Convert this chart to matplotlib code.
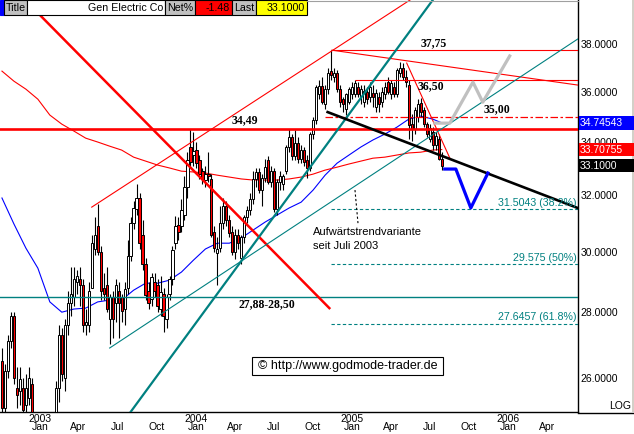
import numpy as np
import pandas as pd
import matplotlib
matplotlib.use('Agg')
import matplotlib.pyplot as plt
import matplotlib.dates as mdates
from matplotlib.patches import Rectangle
from matplotlib.ticker import FuncFormatter, NullLocator

plt.rcParams['font.family'] = ['Liberation Sans', 'DejaVu Sans']

# weekly bars, first bar = week of 2002-10-04
first_week = '2002-10-04'
opens = [26.5, 25.1, 26.2, 27.1, 27.9, 25.7, 25.6, 25.7, 25.2, 25.4,
         25.8, 24.9, 24.3, 24.0, 23.6, 23.0, 23.7, 24.2, 24.9, 25.7,
         27.3, 26.0, 27.6, 28.3, 28.5, 29.0, 29.1, 28.9, 27.6, 27.6,
         28.8, 30.1, 30.9, 30.0, 28.8, 28.9, 27.8, 28.5, 28.3, 28.7,
         28.5, 28.1, 28.8, 29.85, 31.0, 31.5, 31.9, 30.6, 29.6, 28.7,
         28.45, 29.0, 28.9, 28.1, 28.6, 27.8, 28.6, 29.1, 30.3, 30.95,
         30.9, 31.3, 32.3, 33.8, 33.5, 33.7, 33.3, 32.9, 32.55, 32.8,
         32.6, 30.7, 29.95, 30.15, 31.0, 31.6, 31.1, 30.7, 30.0, 30.6,
         29.8, 30.5, 31.2, 31.45, 31.85, 32.6, 32.85, 32.2, 32.65, 33.3,
         32.5, 32.9, 31.5, 32.5, 32.4, 32.9, 33.8, 34.2, 33.45, 33.95,
         33.35, 33.7, 33.3, 33.0, 34.3, 34.85, 35.9, 36.25, 35.5, 36.1,
         36.85, 36.6, 36.8, 36.1, 35.7, 35.3, 35.6, 35.9, 35.9, 36.2,
         35.85, 35.6, 36.0, 35.8, 35.95, 35.4, 35.8, 35.6, 35.9, 36.4,
         35.9, 36.2, 35.9, 36.8, 37.0, 36.6, 36.3, 34.7, 34.5, 35.0,
         35.55, 35.25, 34.7, 34.1, 34.4, 33.9, 34.1, 33.35]
highs = [26.9, 26.4, 27.3, 28.0, 28.0, 26.3, 26.3, 26.0, 26.1, 26.3,
         26.0, 25.0, 24.8, 24.6, 24.2, 24.0, 24.5, 24.9, 25.9, 27.6,
         27.5, 27.8, 28.7, 29.5, 29.5, 29.4, 29.5, 29.1, 28.1, 29.0,
         30.6, 31.2, 31.7, 30.2, 29.3, 29.5, 28.6, 28.7, 29.1, 29.0,
         28.6, 29.0, 30.4, 31.2, 31.8, 32.4, 32.1, 31.1, 29.8, 29.0,
         29.3, 29.3, 29.1, 29.2, 28.8, 28.6, 29.2, 30.2, 31.25, 31.2,
         31.85, 32.7, 33.6, 34.49, 34.4, 34.0, 33.5, 33.0, 33.1, 33.6,
         32.8, 30.9, 30.5, 31.6, 31.9, 31.8, 31.3, 30.9, 30.8, 30.8,
         30.6, 31.3, 31.6, 32.1, 32.9, 33.0, 33.0, 32.8, 33.35, 33.45,
         33.1, 33.0, 32.6, 32.9, 32.8, 33.9, 34.5, 34.3, 34.45, 34.2,
         33.9, 33.8, 33.5, 34.4, 35.0, 36.3, 36.5, 36.6, 36.3, 37.0,
         37.75, 37.0, 36.9, 36.3, 35.8, 35.95, 36.2, 36.4, 36.5, 36.4,
         36.3, 36.3, 36.2, 36.4, 36.3, 36.1, 36.0, 36.2, 36.4, 36.6,
         36.5, 36.4, 37.0, 37.25, 37.2, 36.9, 36.5, 35.1, 35.4, 35.7,
         35.75, 35.4, 34.8, 34.7, 34.6, 34.4, 34.3, 33.6]
lows = [24.8, 24.9, 26.0, 26.9, 25.8, 25.1, 25.2, 24.7, 25.0, 25.2,
        24.6, 24.0, 23.5, 23.2, 22.8, 22.6, 23.2, 23.5, 24.7, 25.3,
        25.9, 25.6, 27.3, 27.9, 28.2, 28.6, 28.2, 27.4, 27.3, 27.4,
        28.8, 29.9, 29.9, 28.4, 28.4, 28.0, 27.0, 27.2, 27.7, 27.2,
        27.7, 27.6, 28.6, 29.7, 30.8, 31.3, 30.1, 29.4, 28.4, 28.1,
        28.2, 28.5, 28.0, 27.9, 27.4, 27.5, 28.4, 28.9, 30.1, 30.4,
        30.7, 31.1, 31.9, 33.1, 33.1, 33.0, 32.6, 32.4, 32.3, 32.5,
        30.5, 30.0, 28.9, 30.0, 30.8, 30.9, 30.5, 29.9, 29.75, 30.1,
        29.6, 30.3, 31.0, 31.3, 31.7, 32.3, 32.1, 31.6, 32.5, 32.4,
        32.3, 31.4, 31.3, 32.2, 32.2, 32.8, 33.6, 33.3, 33.3, 33.2,
        33.2, 33.1, 32.65, 32.9, 34.1, 34.7, 35.7, 35.5, 35.3, 35.9,
        36.5, 36.4, 36.0, 35.4, 35.2, 35.05, 35.5, 35.7, 35.8, 35.8,
        35.5, 35.4, 35.5, 35.6, 35.4, 35.2, 35.2, 35.4, 35.7, 35.9,
        35.7, 35.8, 35.8, 36.6, 36.5, 36.2, 34.1, 34.05, 34.3, 34.8,
        35.0, 34.6, 34.2, 34.0, 33.7, 33.7, 33.3, 32.95]
closes = [25.1, 26.2, 27.1, 27.9, 26.0, 25.5, 25.95, 25.05, 25.7, 26.0,
          25.0, 24.3, 24.0, 23.6, 23.0, 23.7, 24.2, 24.6, 25.7, 27.3,
          26.1, 27.6, 28.3, 28.6, 29.1, 29.2, 28.9, 27.6, 27.7, 28.7,
          30.3, 30.6, 30.0, 28.7, 28.6, 28.1, 28.5, 27.8, 28.9, 28.3,
          28.05, 28.75, 29.85, 31.0, 31.55, 31.9, 30.3, 29.6, 28.55, 28.3,
          29.15, 28.7, 28.2, 28.65, 27.9, 28.5, 29.1, 30.05, 30.9, 30.7,
          31.45, 32.3, 33.3, 33.25, 33.65, 33.2, 32.8, 32.6, 32.8, 32.7,
          30.6, 30.15, 30.1, 31.0, 31.6, 31.1, 30.65, 30.0, 30.6, 30.3,
          30.5, 31.2, 31.45, 31.85, 32.6, 32.85, 32.2, 32.65, 33.05, 32.5,
          32.9, 31.5, 32.5, 32.7, 32.7, 33.8, 34.2, 33.45, 33.95, 33.35,
          33.7, 33.25, 33.0, 34.3, 34.85, 36.2, 36.25, 35.6, 36.1, 36.8,
          36.7, 36.8, 36.1, 35.6, 35.5, 35.9, 36.1, 36.2, 36.35, 35.9,
          36.1, 36.05, 35.7, 36.2, 35.8, 35.95, 35.5, 36.0, 36.2, 36.0,
          36.35, 35.9, 36.9, 37.0, 36.6, 36.4, 34.65, 34.5, 35.25, 35.5,
          35.2, 34.7, 34.3, 34.55, 33.9, 34.25, 33.35, 33.1]

# moving averages, read every 4th bar (plus the last one)
ma_bars = list(range(0, 148, 4)) + [147]
ma_blue = [31.90, 30.97, 30.13, 29.45, 28.34, 28.01, 28.11, 28.14, 28.34, 28.40,
           28.40, 28.72, 28.95, 28.95, 29.05, 29.32, 29.72, 30.10, 30.30, 30.30,
           30.48, 30.76, 31.04, 31.29, 31.54, 31.75, 32.19, 32.74, 33.19, 33.50,
           33.81, 34.08, 34.31, 34.58, 34.90, 35.02, 34.90, 34.75]
ma_red = [36.86, 36.44, 36.11, 35.70, 35.06, 34.70, 34.43, 34.15, 34.00, 33.84,
          33.69, 33.42, 33.27, 33.12, 33.01, 32.89, 32.86, 32.82, 32.74, 32.67,
          32.60, 32.56, 32.56, 32.56, 32.60, 32.67, 32.78, 32.93, 33.04, 33.16,
          33.27, 33.38, 33.42, 33.50, 33.58, 33.61, 33.69, 33.71]

# drawn lines: anchor dates and prices
red_fall_d, red_fall_p = ['2002-11-25', '2004-11-08'], [40.01, 28.14]
red_chan_d, red_chan_p = ['2003-05-02', '2005-07-01'], [31.57, 40.56]
red_top_d, red_top_p = ['2004-11-14', '2006-06-12'], [37.75, 36.28]
red_apr_d, red_apr_p = ['2005-05-08', '2005-08-17'], [37.2, 33.38]
teal_steep_d, teal_steep_p = ['2003-07-18', '2005-07-17'], [24.77, 40.21]
teal_up_d, teal_up_p = ['2003-06-13', '2006-06-12'], [26.89, 38.23]
black_d, black_p = ['2004-11-04', '2006-06-12'], [35.18, 31.54]
gray_d = ['2005-07-13', '2005-08-17', '2005-10-10', '2005-11-02', '2006-01-04']
gray_p = [34.74, 34.74, 36.40, 35.58, 37.50]
blue_d = ['2005-08-05', '2005-08-31', '2005-10-05', '2005-11-14']
blue_p = [32.97, 32.97, 31.54, 32.82]
pointer_d, pointer_p = ['2005-01-07', '2005-01-14'], [32.19, 31.0]

level_3449 = 34.49
level_2850 = 28.50
level_3775, start_3775 = 37.75, '2004-11-14'
level_3650, start_3650 = 36.50, '2005-01-07'
level_3500, start_3500 = 35.00, '2004-10-28'
fib_levels = [31.5043, 29.575, 27.6457]
fib_labels = ['31.5043 (38.2%)', '29.575 (50%)', '27.6457 (61.8%)']
fib_start = '2004-11-12'

last_blue, last_red, last_price = 34.74543, 33.70755, 33.10

y_ticks = [26, 28, 30, 32, 34, 36, 38]


def dn(d):
    return mdates.date2num(np.array(d, dtype='datetime64[D]'))


W, H = 634, 434
fig = plt.figure(figsize=(W / 100, H / 100), dpi=100)
fig.patch.set_facecolor('white')
ax = fig.add_axes([0, 22 / H, 578 / W, 412 / H])
ax.set_yscale('log')

jan03 = dn('2003-01-01')
x_left, x_right = jan03 - 93.6, jan03 + 1258.8

# candles
dates = pd.date_range(first_week, periods=len(closes), freq='7D')
xs = mdates.date2num(dates.values)
o = np.array(opens)
c = np.array(closes)
ax.vlines(xs, lows, highs, color='black', lw=0.8, zorder=3)
body_lo = np.minimum(o, c)
body_h = np.maximum(np.abs(c - o), 0.04)
cols = np.where(c >= o, 'white', '#ff0000')
ax.bar(xs, body_h, bottom=body_lo, width=5.2, color=cols,
       edgecolor='black', linewidth=0.7, zorder=4)

# moving averages
ax.plot(xs[ma_bars], ma_blue, color='#0000ff', lw=0.8, zorder=2)
ax.plot(xs[ma_bars], ma_red, color='#ff0000', lw=0.8, zorder=2)

red = '#ff0000'
teal = '#008080'
ax.axhline(level_3449, color=red, lw=1.9, zorder=5)
ax.axhline(level_2850, color=teal, lw=1.0, zorder=5)
ax.plot(dn(red_fall_d), red_fall_p, color=red, lw=1.8, zorder=5)
ax.plot(dn(red_chan_d), red_chan_p, color=red, lw=0.8, zorder=5)
ax.plot(dn(red_top_d), red_top_p, color=red, lw=0.8, zorder=5)
ax.plot(dn(red_apr_d), red_apr_p, color=red, lw=0.8, zorder=5)
ax.hlines(level_3775, dn(start_3775), x_right + 5, color=red, lw=0.8, zorder=5)
ax.hlines(level_3650, dn(start_3650), x_right + 5, color=red, lw=0.8, zorder=5)
ax.hlines(level_3500, dn(start_3500), x_right + 5, color=red, lw=0.9,
          linestyles=[(0, (6, 2, 2, 2))], zorder=5)
ax.plot(dn(teal_steep_d), teal_steep_p, color=teal, lw=1.6, zorder=5)
ax.plot(dn(teal_up_d), teal_up_p, color=teal, lw=0.8, zorder=5)
ax.plot(dn(black_d), black_p, color='black', lw=1.9, zorder=6)
for lv, lb in zip(fib_levels, fib_labels):
    ax.hlines(lv, dn(fib_start), x_right + 5, color=teal, lw=0.8,
              linestyles=[(0, (3, 2.1))], zorder=5)
    ax.annotate(lb, xy=(1, lv), xycoords=('axes fraction', 'data'),
                xytext=(-1, 1), textcoords='offset points',
                ha='right', va='bottom', color=teal, fontsize=7.7, zorder=7)
ax.plot(dn(gray_d), gray_p, color='#c0c0c0', lw=2.3, zorder=6)
ax.plot(dn(blue_d), blue_p, color='#0000ff', lw=2.3, zorder=6)
ax.plot(dn(pointer_d), pointer_p, color='black', lw=0.8,
        linestyle=(0, (2, 2)), zorder=6)

ax.set_xlim(x_left, x_right)
ax.set_ylim(25.0, 39.97)

ax.yaxis.tick_right()
ax.set_yticks(y_ticks)
ax.yaxis.set_major_formatter(FuncFormatter(lambda v, p: f'{v:.4f}'))
ax.yaxis.set_minor_locator(NullLocator())
ax.tick_params(axis='y', length=0, pad=2, labelsize=7.5)

qt = pd.date_range('2003-01-01', '2006-04-01', freq='QS')
xlabels = [f'{d.year}\nJan' if d.month == 1 else '\n' + d.strftime('%b') for d in qt]
ax.set_xticks(mdates.date2num(qt.values))
ax.set_xticklabels(xlabels, linespacing=0.8)
ax.tick_params(axis='x', length=0, pad=1.5, labelsize=7.5)

for s in ['left', 'top']:
    ax.spines[s].set_visible(False)
ax.spines['right'].set_linewidth(1.0)
ax.spines['bottom'].set_linewidth(1.0)

# overlay in pixel coordinates for header, boxes and notes
ov = fig.add_axes([0, 0, 1, 1], zorder=10)
ov.set_xlim(0, W)
ov.set_ylim(H, 0)
ov.axis('off')
ov.patch.set_alpha(0)

ov.plot([578, W], [412.5, 412.5], color='black', lw=1.0)
ov.add_patch(Rectangle((632, 0), 2, 412, facecolor='#d4d0c8', edgecolor='none'))
ov.plot([307, 578], [0.5, 0.5], color='#a0a0a0', lw=0.8)

header = [(0, 4, '#0000ff', '', 'left'),
          (4, 27, '#c0c0c0', 'Title', 'left'),
          (27, 165, 'white', 'Gen Electric Co', 'right'),
          (165, 195, '#c0c0c0', 'Net%', 'left'),
          (195, 232, '#ff0000', '-1.48', 'right'),
          (232, 256, '#c0c0c0', 'Last', 'left'),
          (256, 307, '#ffff00', '33.1000', 'right')]
for x0, x1, fc, txt, al in header:
    ov.add_patch(Rectangle((x0, 0), x1 - x0, 15, facecolor=fc,
                           edgecolor='black' if txt else fc, lw=0.8))
    if txt:
        tx = x0 + 2 if al == 'left' else x1 - 2
        ov.text(tx, 8, txt, ha=al, va='center', fontsize=7.7, color='black')

for val, txt, col in [(last_blue, '34.74543', '#0000ff'),
                      (last_red, '33.70755', '#ff0000'),
                      (last_price, '33.1000', 'black')]:
    yp = H - ax.transData.transform((x_left, val))[1]
    ov.add_patch(Rectangle((578.5, yp - 6.8), W - 578.5, 13.6,
                           facecolor=col, edgecolor='none'))
    ov.text(580, yp, txt, color='white', fontsize=7.5, va='center')

bold = dict(family='Liberation Serif', weight='bold', fontsize=8.5,
            ha='center', va='center', color='black')
ov.text(434, 43, '37,75', **bold)
ov.text(431, 86, '36,50', **bold)
ov.text(497, 109, '35,00', **bold)
ov.text(245, 120, '34,49', **bold)
ov.text(266.5, 304, '27,88-28,50', **bold)

ov.text(313, 232, 'Aufwärtstrendvariante', fontsize=8, va='center')
ov.text(313, 246, 'seit Juli 2003', fontsize=8, va='center')

ov.add_patch(Rectangle((252, 357), 191, 18, facecolor='white',
                       edgecolor='black', lw=0.8))
ov.text(347.5, 366.5, '\u00a9 http://www.godmode-trader.de', fontsize=9,
        ha='center', va='center')
ov.text(631, 406, 'LOG', fontsize=7.5, ha='right', va='center')

fig.savefig('out.png', dpi=100, facecolor='white')
